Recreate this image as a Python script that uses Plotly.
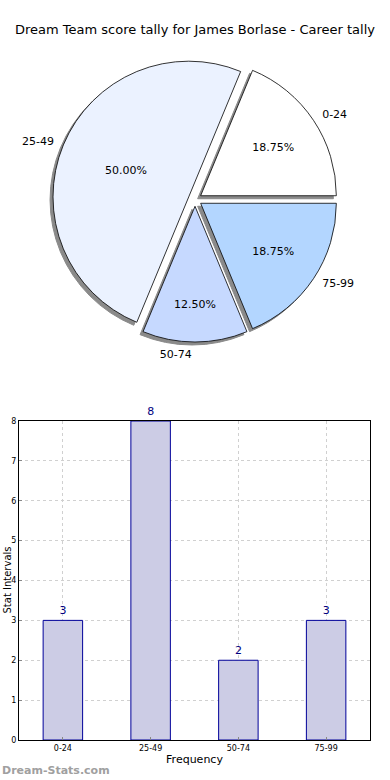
import plotly.graph_objects as go

categories = ["0-24", "25-49", "50-74", "75-99"]
counts = [3, 8, 2, 3]
slice_colors = ["#FFFFFF", "#EBF2FF", "#C6D9FF", "#B3D6FF"]
title_text = "Dream Team score tally for James Borlase - Career tally"

W, H = 390, 780
FONT = "DejaVu Sans"

def px_x(x):
    return x / W

def px_y(y):
    return 1 - y / H

ROT = 22.5
pull = [0.05, 0.05, 0.05, 0.05]
pie_dom_x = [px_x(42), px_x(348)]
pie_dom_y = [px_y(342), px_y(57)]
sh = 3
fig = go.Figure()

# shadow pie
fig.add_trace(go.Pie(
    labels=categories, values=counts, sort=False, direction="counterclockwise",
    rotation=ROT, pull=pull, textinfo="none", hoverinfo="skip", automargin=False,
    marker=dict(colors=["#8a8a8a"] * 4, line=dict(color="#8a8a8a", width=1)),
    domain=dict(x=[pie_dom_x[0] - sh / W, pie_dom_x[1] - sh / W],
                y=[pie_dom_y[0] - sh / H, pie_dom_y[1] - sh / H]),
    showlegend=False,
))
# main pie with percentages inside
fig.add_trace(go.Pie(
    labels=categories, values=counts, sort=False, direction="counterclockwise",
    rotation=ROT, pull=pull, textposition="inside", texttemplate="%{percent:.2%}",
    insidetextorientation="horizontal", automargin=False,
    textfont=dict(family=FONT, size=11, color="black"),
    marker=dict(colors=slice_colors, line=dict(color="black", width=0.8)),
    domain=dict(x=pie_dom_x, y=pie_dom_y), showlegend=False,
))
# transparent overlay for outside labels
fig.add_trace(go.Pie(
    labels=categories, values=counts, sort=False, direction="counterclockwise",
    rotation=ROT, pull=pull, textposition="outside", texttemplate="%{label}",
    textfont=dict(family=FONT, size=11, color="black"), automargin=False,
    marker=dict(colors=["rgba(0,0,0,0)"] * 4, line=dict(width=0)),
    domain=dict(x=[px_x(14), px_x(376)], y=[px_y(348), px_y(50)]),
    showlegend=False, hoverinfo="skip",
))

fig.add_trace(go.Bar(
    x=categories, y=counts, width=0.45, text=counts, textposition="outside",
    textfont=dict(family=FONT, size=11, color="#000080"),
    marker=dict(color="#CCCCE5", line=dict(color="#000099", width=1)),
    cliponaxis=False, showlegend=False, xaxis="x", yaxis="y",
))

axis_common = dict(showline=True, mirror=True, linecolor="black", linewidth=1,
                   showgrid=True, gridcolor="#d0d0d0", griddash="dot", gridwidth=1,
                   ticks="inside", ticklen=3, tickcolor="#888", zeroline=False,
                   automargin=False,
                   tickfont=dict(family=FONT, size=8, color="black"))

fig.update_layout(
    width=W, height=H, margin=dict(l=0, r=0, t=0, b=0, autoexpand=False),
    paper_bgcolor="white", plot_bgcolor="white",
    font=dict(family=FONT, color="black"),
    xaxis=dict(domain=[px_x(19), px_x(370)], **axis_common,
               title=dict(text="Frequency", font=dict(family=FONT, size=11), standoff=3)),
    yaxis=dict(domain=[px_y(740), px_y(421)], range=[0, 8], dtick=1, **axis_common),
    annotations=[
        dict(text=title_text, x=0.5, y=px_y(30), xref="paper", yref="paper",
             showarrow=False, font=dict(family=FONT, size=13, color="black"),
             xanchor="center", yanchor="middle"),
        dict(text="Stat Intervals", x=px_x(-1), y=px_y(580), xref="paper", yref="paper",
             showarrow=False, textangle=-90, font=dict(family=FONT, size=10, color="black"),
             xanchor="left", yanchor="middle"),
        dict(text="<b>Dream-Stats.com</b>", x=px_x(0), y=px_y(770), xref="paper", yref="paper",
             showarrow=False, font=dict(family=FONT, size=11, color="#a0a0a0"),
             xanchor="left", yanchor="middle"),
    ],
)

fig.write_html("out.html", config={"displayModeBar": False},
               post_script="document.body.style.margin='0';")
